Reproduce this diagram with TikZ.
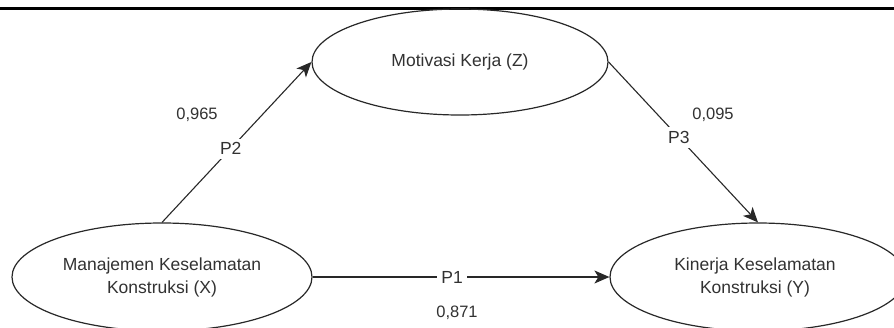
\documentclass[tikz,border=0pt]{standalone}
\usepackage{fontspec}
\setmainfont{Liberation Sans}
\usetikzlibrary{arrows.meta,shapes.geometric}
\definecolor{ink}{RGB}{40,40,40}
\definecolor{txt}{RGB}{50,50,50}
\tikzset{
  construct/.style={draw=ink, line width=1.2pt, ellipse, inner sep=0pt, align=center,
    text=txt, font=\fontsize{17.5}{23}\selectfont},
  path/.style={draw=ink, line width=1.1pt, -{Stealth[length=15pt,width=13pt,inset=4pt]}},
  plabel/.style={fill=white, text=txt, inner sep=4pt, font=\fontsize{17.5}{20}\selectfont},
  coef/.style={text=txt, inner sep=0pt, font=\fontsize{16.5}{20}\selectfont}
}
\begin{document}
\begin{tikzpicture}[x=1pt,y=-1pt]
\useasboundingbox (0,0) rectangle (894,327);
\fill[white] (0,0) rectangle (894,327);
\clip (0,0) rectangle (894,327);
\draw[black, line width=3pt] (0,8) -- (894,8);
\node[construct, minimum width=300pt, minimum height=108pt] (X) at (162,277)
  {Manajemen Keselamatan\\Konstruksi (X)};
\node[construct, minimum width=296pt, minimum height=108pt] (Y) at (758,277)
  {\hspace*{-6pt}Kinerja Keselamatan\\\hspace*{-6pt}Konstruksi (Y)};
\node[construct, minimum width=296pt, minimum height=106pt] (Z) at (460,62)
  {Motivasi Kerja (Z)};
\draw[path] (X.north) -- node[plabel, pos=0.46] {P2} (Z.west);
\draw[path] (Z.east) -- node[plabel, pos=0.47] {P3} (Y.north);
\draw[path] (X.east) -- node[plabel, pos=0.47] {P1} (Y.west);
\node[coef] (c2) at (197,115) {0,965};
\node[coef] (c3) at (713,115) {0,095};
\node[coef] (c1) at (457,313) {0,871};
\end{tikzpicture}
\end{document}
